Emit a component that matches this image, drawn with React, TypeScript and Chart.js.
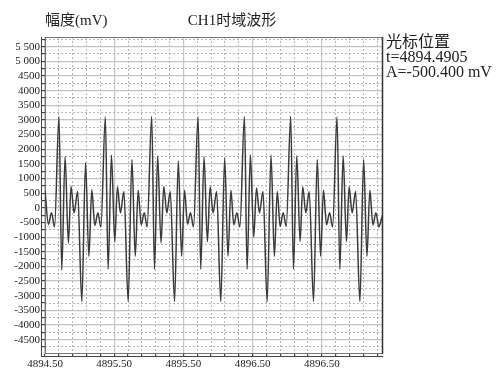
import { useEffect, useRef } from "react";
import { Chart, registerables } from "chart.js";

Chart.register(...registerables);

// ---- data ----
const times: number[] = [
  4894.5, 4894.525, 4894.547, 4894.569, 4894.601, 4894.621, 4894.645, 4894.669, 4894.688, 4894.71, 4894.736, 4894.766, 4894.793, 4894.817,
  4894.838, 4894.86, 4894.882, 4894.904, 4894.936, 4894.956, 4894.98, 4895.004, 4895.023, 4895.045, 4895.07, 4895.101, 4895.128, 4895.152,
  4895.173, 4895.195, 4895.217, 4895.238, 4895.271, 4895.291, 4895.314, 4895.338, 4895.358, 4895.38, 4895.405, 4895.436, 4895.463, 4895.487,
  4895.508, 4895.53, 4895.551, 4895.573, 4895.606, 4895.625, 4895.649, 4895.673, 4895.693, 4895.714, 4895.74, 4895.77, 4895.798, 4895.822,
  4895.843, 4895.864, 4895.886, 4895.908, 4895.941, 4895.96, 4895.984, 4896.008, 4896.028, 4896.049, 4896.075, 4896.105, 4896.133, 4896.157,
  4896.178, 4896.199, 4896.221, 4896.243, 4896.275, 4896.295, 4896.319, 4896.343, 4896.362, 4896.384, 4896.409, 4896.44, 4896.467, 4896.491,
  4896.512, 4896.534, 4896.556, 4896.578, 4896.61, 4896.63, 4896.654, 4896.678, 4896.697, 4896.719, 4896.744, 4896.775, 4896.802, 4896.826,
  4896.847, 4896.869, 4896.891, 4896.912, 4896.935,
];

const amplitudes: number[] = [
  600, -560, -170, -650, 3120, -2120, 1750, -1200, 730, -170, 560, -3200, 1540, -1660,
  615, -600, -170, -660, 3100, -2100, 1800, -1150, 720, -170, 560, -3200, 1650, -1650,
  600, -580, -170, -650, 3120, -2100, 1780, -1200, 730, -170, 560, -3200, 1600, -1650,
  600, -560, -170, -650, 3120, -2100, 1750, -1150, 720, -170, 560, -3200, 1700, -1650,
  600, -580, -170, -650, 3120, -2100, 1810, -1000, 680, -170, 560, -3200, 1800, -1660,
  560, -640, -170, -640, 3120, -2100, 1780, -1150, 720, -170, 560, -3200, 1650, -1650,
  600, -580, -170, -650, 3100, -2100, 1780, -1150, 720, -170, 560, -3200, 1650, -1650,
  600, -580, -170, -650, -300,
];

const xMajorTicks: number[] = [4894.5, 4895.0, 4895.5, 4896.0, 4896.5];
const xTickLabels: string[] = ["4894.50", "4895.50", "4895.50", "4896.50", "4896.50"];

const yMajorTicks: number[] = [
  -4500, -4000, -3500, -3000, -2500, -2000, -1500, -1000, -500, 0,
  500, 1000, 1500, 2000, 2500, 3000, 3500, 4000, 4500, 5000, 5500,
];
const yTickLabels: string[] = [
  "-4500", "-4000", "-3500", "-3000", "-2500", "-2000", "-1500", "-1000", "-500", "0",
  "500", "1000", "1500", "2000", "2500", "3000", "3500", "4000", "4500", "5 000", "5 500",
];

const yAxisTitle = "幅度(mV)";
const chartTitle = "CH1时域波形";
const cursorLines: string[] = ["光标位置", "t=4894.4905", "A=-500.400 mV"];

const X_MIN = 4894.5;
const X_MAX = 4896.942;
const Y_MIN = -4990;
const Y_MAX = 5830;
const X_MINOR_STEP = 0.1;
const Y_MINOR_STEP = 250;

const SERIF = '"Liberation Serif", "Noto Sans CJK SC", serif';

function range(start: number, end: number, step: number): number[] {
  const out: number[] = [];
  const n = Math.round((end - start) / step);
  for (let i = 0; i <= n; i++) out.push(+(start + i * step).toFixed(6));
  return out;
}

const xAllTicks = range(4894.5, 4896.9, X_MINOR_STEP);
const yAllTicks = range(-4750, 5750, Y_MINOR_STEP);
const isXMajor = (v: number) => xMajorTicks.some((m) => Math.abs(m - v) < 1e-6);
const isYMajor = (v: number) => yMajorTicks.some((m) => Math.abs(m - v) < 1e-6);

const framePlugin = {
  id: "frameAndText",
  beforeDatasetsDraw(chart: any) {
    const { ctx, chartArea: a } = chart;
    ctx.save();
    ctx.strokeStyle = "#777";
    ctx.lineWidth = 1;
    ctx.strokeRect(a.left + 0.5, a.top + 0.5, a.right - a.left - 1, a.bottom - a.top - 1);
    ctx.strokeStyle = "#444";
    ctx.beginPath();
    ctx.moveTo(a.left - 3.5, a.top);
    ctx.lineTo(a.left - 3.5, a.bottom + 3);
    ctx.moveTo(a.left - 3.5, a.bottom + 2.5);
    ctx.lineTo(a.right, a.bottom + 2.5);
    ctx.stroke();
    ctx.lineWidth = 1.5;
    ctx.strokeStyle = "#333";
    ctx.beginPath();
    ctx.moveTo(a.right - 0.5, a.top);
    ctx.lineTo(a.right - 0.5, a.bottom);
    ctx.stroke();
    ctx.restore();
  },
  afterDraw(chart: any) {
    const { ctx, chartArea: a } = chart;
    ctx.save();
    ctx.fillStyle = "#222";
    ctx.textBaseline = "middle";
    ctx.font = `15px ${SERIF}`;
    ctx.textAlign = "left";
    ctx.fillText(yAxisTitle, a.left, 21);
    ctx.textAlign = "center";
    ctx.fillText(chartTitle, 232, 21);
    ctx.textAlign = "left";
    ctx.font = `16px ${SERIF}`;
    cursorLines.forEach((t, i) => ctx.fillText(t, a.right + 3, 43 + i * 15));
    ctx.restore();
  },
};

export default function App() {
  const ref = useRef<HTMLCanvasElement | null>(null);

  useEffect(() => {
    if (!ref.current) return;
    const points = times.map((t, i) => ({ x: t, y: amplitudes[i] }));
    const chart = new Chart(ref.current, {
      type: "line",
      data: {
        datasets: [
          {
            data: points,
            borderColor: "#3a3a3a",
            borderWidth: 1.5,
            pointRadius: 0,
            cubicInterpolationMode: "monotone",
            fill: false,
          },
        ],
      },
      options: {
        animation: false,
        responsive: false,
        layout: { padding: { top: 37, right: 117, bottom: 0, left: 0 } },
        plugins: { legend: { display: false }, tooltip: { enabled: false }, title: { display: false } },
        scales: {
          x: {
            type: "linear",
            position: "bottom",
            min: X_MIN,
            max: X_MAX,
            afterBuildTicks: (s: any) => {
              s.ticks = xAllTicks.map((v) => ({ value: v }));
            },
            afterFit: (s: any) => {
              s.height = 16;
            },
            ticks: {
              autoSkip: false,
              maxRotation: 0,
              padding: 1,
              color: "#222",
              font: { family: SERIF, size: 11 },
              callback: (v: any) => {
                const i = xMajorTicks.findIndex((m) => Math.abs(m - Number(v)) < 1e-6);
                return i >= 0 ? xTickLabels[i] : "";
              },
            },
            grid: {
              color: (c: any) => (c.tick && isXMajor(c.tick.value) ? "#c4c4c4" : "rgba(0,0,0,0)"),
              lineWidth: 1.2,
              tickColor: "#444",
              tickLength: 3,
            },
            border: { display: false },
          },
          x2: {
            type: "linear",
            position: "bottom",
            min: X_MIN,
            max: X_MAX,
            afterBuildTicks: (s: any) => {
              s.ticks = xAllTicks.filter((v) => !isXMajor(v)).map((v) => ({ value: v }));
            },
            afterFit: (s: any) => {
              s.height = 0;
            },
            ticks: { display: false },
            grid: { color: "#b4b4b4", lineWidth: 1, drawTicks: false },
            border: { display: false, dash: [2, 2] },
          },
          y: {
            type: "linear",
            position: "left",
            min: Y_MIN,
            max: Y_MAX,
            afterBuildTicks: (s: any) => {
              s.ticks = yAllTicks.map((v) => ({ value: v }));
            },
            afterFit: (s: any) => {
              s.width = 45;
            },
            ticks: {
              autoSkip: false,
              padding: 2,
              color: "#222",
              font: { family: SERIF, size: 11 },
              callback: (v: any) => {
                const i = yMajorTicks.findIndex((m) => Math.abs(m - Number(v)) < 1e-6);
                return i >= 0 ? yTickLabels[i] : "";
              },
            },
            grid: {
              color: (c: any) => (c.tick && isYMajor(c.tick.value) ? "#c4c4c4" : "rgba(0,0,0,0)"),
              lineWidth: 1.2,
              tickColor: "#444",
              tickLength: 3,
            },
            border: { display: false },
          },
          y2: {
            type: "linear",
            position: "left",
            min: Y_MIN,
            max: Y_MAX,
            afterBuildTicks: (s: any) => {
              s.ticks = yAllTicks.filter((v) => !isYMajor(v)).map((v) => ({ value: v }));
            },
            afterFit: (s: any) => {
              s.width = 0;
            },
            ticks: { display: false },
            grid: { color: "#b4b4b4", lineWidth: 1, drawTicks: false },
            border: { display: false, dash: [2, 2] },
          },
        },
      },
      plugins: [framePlugin],
    } as any);
    return () => chart.destroy();
  }, []);

  return (
    <div style={{ position: "absolute", left: 0, top: 0, width: 500, height: 370, background: "#fff" }}>
      <canvas ref={ref} width={500} height={370} />
    </div>
  );
}
